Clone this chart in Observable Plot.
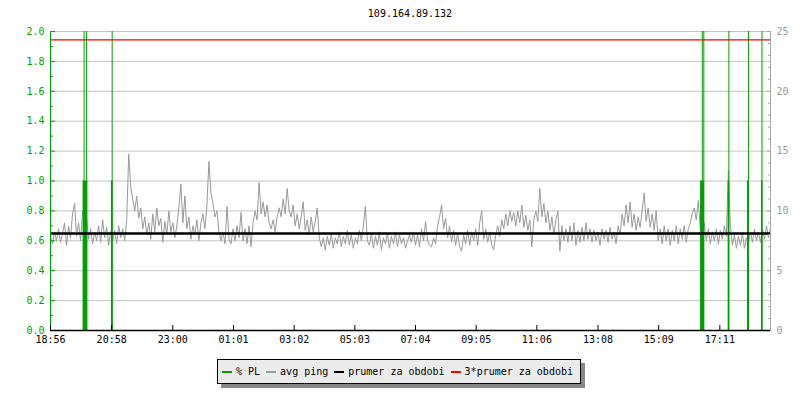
<!DOCTYPE html>
<html><head><meta charset="utf-8">
<script src="https://cdn.jsdelivr.net/npm/d3@7"></script>
<script src="https://cdn.jsdelivr.net/npm/@observablehq/plot@0.6"></script>
<style>
html,body{margin:0;padding:0;background:#fff;}
#wrap{position:relative;width:800px;height:400px;font-family:"DejaVu Sans Mono",monospace;font-size:10px;color:#000;}
#title{position:absolute;left:50px;width:720px;top:8px;text-align:center;line-height:12px;}
#chart{position:absolute;left:0;top:0;}
#legend{position:absolute;left:217px;top:359px;width:364px;height:25px;box-sizing:border-box;border:1px solid #000;background:#ebebeb;box-shadow:4px 4px 0 #888;display:flex;align-items:center;padding-left:4px;}
.sw{display:inline-block;width:10px;height:2px;margin-right:4px;}
.it{display:flex;align-items:center;margin-right:6px;white-space:pre;line-height:12px;}
</style></head><body>
<div id="wrap">
  <div id="chart"></div>
  <div id="title"></div>
  <div id="legend"></div>
</div>
<script>
const title = "109.164.89.132";
const xTickLabels = ["18:56","20:58","23:00","01:01","03:02","05:03","07:04","09:05","11:06","13:08","15:09","17:11"];
const startLabel = "18:56";
const spanMinutes = 1436;
const sampleStep = 4; // minutes between avg ping samples
const leftTicks = [0,0.2,0.4,0.6,0.8,1.0,1.2,1.4,1.6,1.8,2.0];
const leftMinor = [0.1,0.3,0.5,0.7,0.9,1.1,1.3,1.5,1.7,1.9];
const rightTicks = [0,5,10,15,20,25];
const rightMinor = [1,2,3,4,6,7,8,9,11,12,13,14,16,17,18,19,21,22,23,24];
const rightMax = 25;
const avgPingMean = 0.648;
const avgPing = [
0.63,0.58,0.66,0.6,0.68,0.59,0.65,0.72,0.57,0.7,0.62,0.78,0.85,0.63,0.72,0.6,0.8,0.7,0.75,0.61,0.68,0.58,0.66,0.6,0.7,0.59,0.74,0.62,0.69,0.57,
0.66,0.6,0.67,0.58,0.7,0.62,0.68,0.6,0.74,1.18,0.96,0.88,0.8,0.9,0.75,0.82,0.68,0.76,0.64,0.72,0.61,0.78,0.66,0.82,0.7,0.75,0.59,0.73,0.64,0.8,
0.66,0.72,0.62,0.7,0.82,0.98,0.72,0.9,0.68,0.76,0.61,0.7,0.64,0.74,0.6,0.72,0.78,0.68,0.84,1.13,0.92,0.85,0.76,0.8,0.66,0.6,0.66,0.58,0.83,0.61,
0.58,0.68,0.6,0.7,0.62,0.79,0.6,0.68,0.58,0.7,0.56,0.72,0.8,0.74,0.99,0.78,0.86,0.76,0.84,0.72,0.68,0.74,0.66,0.76,0.82,0.76,0.88,0.78,0.95,0.8,
0.76,0.84,0.7,0.78,0.68,0.76,0.86,0.67,0.74,0.64,0.76,0.66,0.73,0.82,0.62,0.56,0.62,0.54,0.63,0.57,0.65,0.55,0.62,0.58,0.66,0.56,0.63,0.58,0.67,0.57,
0.64,0.55,0.62,0.58,0.67,0.6,0.7,0.83,0.6,0.57,0.65,0.55,0.63,0.57,0.66,0.54,0.62,0.58,0.65,0.55,0.63,0.58,0.66,0.56,0.64,0.58,0.62,0.55,0.6,0.64,
0.59,0.66,0.57,0.64,0.56,0.68,0.6,0.73,0.6,0.57,0.56,0.62,0.58,0.7,0.76,0.84,0.68,0.75,0.62,0.7,0.59,0.67,0.57,0.65,0.56,0.53,0.64,0.58,0.67,0.57,
0.66,0.6,0.68,0.57,0.72,0.8,0.61,0.68,0.59,0.66,0.57,0.54,0.64,0.7,0.63,0.74,0.68,0.78,0.7,0.8,0.73,0.79,0.7,0.8,0.72,0.84,0.69,0.77,0.67,0.74,
0.56,0.74,0.8,0.73,0.95,0.76,0.85,0.72,0.8,0.67,0.76,0.64,0.74,0.8,0.53,0.7,0.6,0.68,0.59,0.7,0.6,0.72,0.57,0.67,0.59,0.69,0.6,0.72,0.61,0.68,
0.59,0.67,0.6,0.66,0.57,0.68,0.61,0.67,0.59,0.69,0.61,0.66,0.58,0.7,0.64,0.78,0.7,0.84,0.72,0.86,0.69,0.78,0.67,0.76,0.69,0.8,0.92,0.73,0.82,0.69,
0.78,0.67,0.8,0.6,0.68,0.58,0.7,0.6,0.68,0.57,0.67,0.6,0.7,0.58,0.68,0.61,0.7,0.59,0.68,0.72,0.78,0.82,0.74,0.87,0.68,0.62,0.72,0.6,0.68,0.58,
0.66,0.6,0.68,0.58,0.67,0.61,0.7,0.63,1.07,0.7,0.57,0.64,0.55,0.63,0.57,0.65,0.55,0.62,0.58,0.66,0.59,0.68,0.6,0.66,0.59,0.68,0.61,0.7,0.62,0.69
];
// packet loss: single-sample spikes (percent) and short bars (percent)
const plSpikeTime = [67, 72, 123, 1300, 1303, 1353, 1392, 1419];
const plSpikePct = [100, 100, 100, 100, 100, 100, 100, 100];
const plBarStart = [65, 121.5, 1296.5, 1351.5, 1390, 1418];
const plBarEnd = [74.5, 125, 1304.5, 1354.5, 1393, 1421];
const plBarPct = [12.5, 12.5, 12.5, 12.5, 12.5, 12.5];

const legendNames = ["% PL", "avg ping", "prumer za obdobi", "3*prumer za obdobi"];
const cGreen = "#00a000", cGray = "#999999", cBlack = "#000000", cRed = "#ff0000";
const legendColors = [cGreen, cGray, cBlack, cRed];

const toMin = s => { const [h, m] = s.split(":").map(Number); const [h0, m0] = startLabel.split(":").map(Number); return ((h*60+m) - (h0*60+m0) + 1440) % 1440; };
const xTicks = xTickLabels.map(toMin);
const scaleFactor = leftTicks[leftTicks.length-1] / rightMax;
const pingData = avgPing.map((v, i) => ({t: i*sampleStep, v}));
const spikes = plSpikeTime.map((t, i) => ({t, y: plSpikePct[i]*scaleFactor}));
const bars = plBarStart.map((s, i) => ({x1: s, x2: plBarEnd[i], y: plBarPct[i]*scaleFactor}));

const chart = Plot.plot({
  width: 800, height: 350,
  marginLeft: 50, marginRight: 30, marginTop: 31, marginBottom: 20,
  style: {fontFamily: "DejaVu Sans Mono, monospace", fontSize: "10px", background: "transparent", overflow: "visible"},
  x: {domain: [0, spanMinutes], axis: null},
  y: {domain: [0, 2], axis: null},
  marks: [
    Plot.gridY(leftTicks.slice(1), {stroke: "#c4c4c4", strokeOpacity: 1}),
    Plot.line(pingData, {x: "t", y: "v", stroke: cGray, strokeWidth: 1}),
    Plot.ruleX(spikes, {x: "t", y1: 0, y2: "y", stroke: cGreen, strokeWidth: 1, clip: true}),
    Plot.rectY(bars, {x1: "x1", x2: "x2", y1: 0, y2: "y", fill: cGreen, inset: 0}),
    Plot.ruleY([avgPingMean], {stroke: cBlack, strokeWidth: 2.5}),
    Plot.ruleY([avgPingMean*3], {stroke: cRed, strokeWidth: 1.2}),
    // left axis
    Plot.ruleX([0], {stroke: cGreen, strokeWidth: 1}),
    Plot.axisY(leftTicks, {anchor: "left", tickSize: 5, dx: 5, text: null, stroke: cGreen, label: null}),
    Plot.axisY(leftMinor, {anchor: "left", tickSize: 3, dx: 3, text: null, stroke: cGreen, label: null}),
    Plot.axisY(leftTicks, {anchor: "left", tickSize: 0, tickPadding: 6, fill: cGreen, tickFormat: d => d.toFixed(1), label: null}),
    // right axis
    Plot.ruleX([spanMinutes], {stroke: "#a8a8a8", strokeWidth: 1}),
    Plot.axisY(rightTicks.map(v => v*scaleFactor), {anchor: "right", tickSize: 4, dx: -4, text: null, stroke: "#a8a8a8", label: null}),
    Plot.axisY(rightMinor.map(v => v*scaleFactor), {anchor: "right", tickSize: 3, dx: -3, text: null, stroke: "#a8a8a8", label: null}),
    Plot.axisY(rightTicks.map(v => v*scaleFactor), {anchor: "right", tickSize: 0, tickPadding: 6, fill: "#999", tickFormat: d => String(Math.round(d/scaleFactor)), label: null}),
    // bottom axis
    Plot.ruleY([0], {stroke: cBlack, strokeWidth: 1.5}),
    Plot.axisX(xTicks, {anchor: "bottom", tickSize: 5, dy: -5, text: null, stroke: cBlack, label: null}),
    Plot.axisX(xTicks, {anchor: "bottom", tickSize: 0, tickPadding: 5, fill: cBlack, tickFormat: (d, i) => xTickLabels[i], label: null})
  ]
});
document.getElementById("chart").appendChild(chart);
document.getElementById("title").textContent = title;
const lg = document.getElementById("legend");
legendNames.forEach((n, i) => {
  const it = document.createElement("span"); it.className = "it";
  const sw = document.createElement("span"); sw.className = "sw"; sw.style.background = legendColors[i];
  const tx = document.createElement("span"); tx.textContent = n;
  it.appendChild(sw); it.appendChild(tx); lg.appendChild(it);
});
</script>
</body></html>
